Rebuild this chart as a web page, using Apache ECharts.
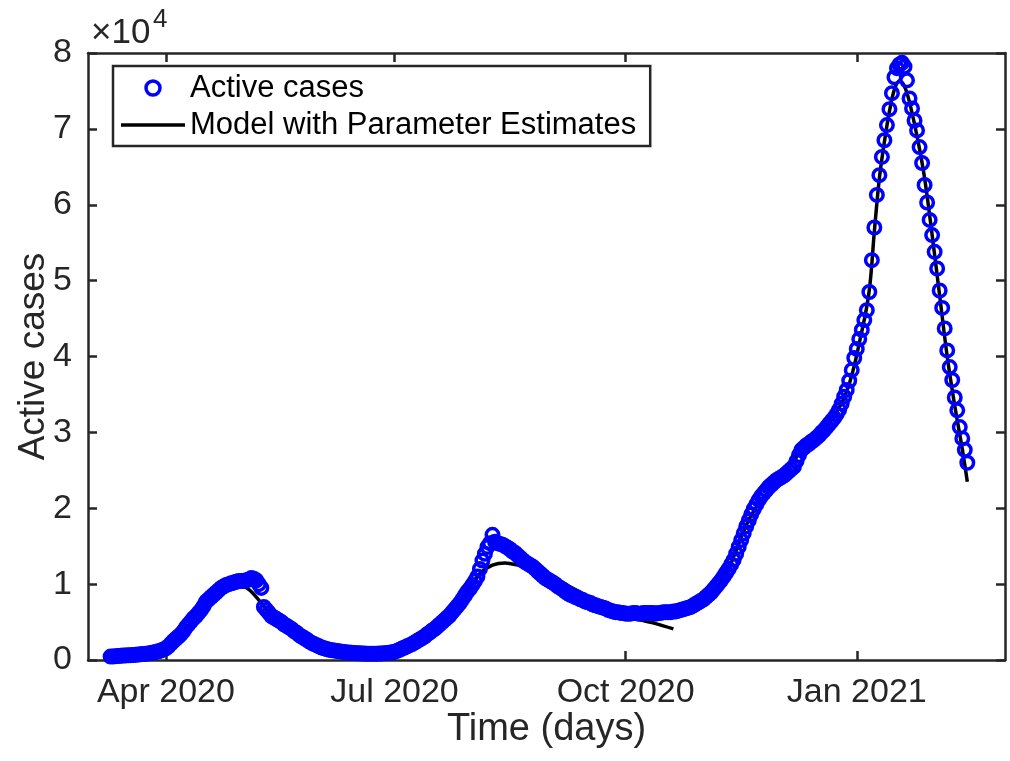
<!DOCTYPE html>
<html>
<head>
<meta charset="utf-8">
<script src="https://cdn.jsdelivr.net/npm/echarts@6/dist/echarts.min.js"></script>
<style>
  html, body { margin: 0; padding: 0; background: #ffffff; }
  #chart { width: 1010px; height: 761px; }
</style>
</head>
<body>
<div id="chart"></div>
<script>
// Daily active cases, one array per month (first day: 10 Mar 2020)
const firstDay = '2020-03-10';
const activeMar2020 = [450, 470, 500, 530, 560, 580, 600, 620, 640, 660, 690, 720, 760, 790, 830, 870, 920, 990, 1070, 1150, 1250, 1380];
const activeApr2020 = [1550, 1800, 2150, 2500, 2800, 3100, 3400, 3800, 4300, 4700, 5100, 5500, 5800, 6200, 6600, 7100, 7700, 8000, 8300, 8600, 8900, 9200, 9500, 9700, 9900, 10000, 10100, 10200, 10300, 10400];
const activeMay2020 = [10400, 10400, 10500, 10600, 10800, 10700, 10500, 10000, 9500, 7000, 6600, 6200, 5800, 5600, 5400, 5200, 5000, 4700, 4500, 4300, 4100, 3800, 3600, 3300, 3100, 2900, 2700, 2450, 2250, 2100, 1950];
const activeJun2020 = [1800, 1650, 1550, 1450, 1350, 1300, 1250, 1200, 1150, 1100, 1050, 1000, 980, 950, 930, 900, 880, 860, 850, 840, 830, 830, 830, 840, 850, 870, 900, 930, 970, 1020];
const activeJul2020 = [1100, 1200, 1350, 1500, 1650, 1800, 1950, 2100, 2300, 2500, 2700, 2900, 3100, 3400, 3600, 3900, 4100, 4400, 4700, 5000, 5300, 5600, 5900, 6300, 6700, 7100, 7500, 8000, 8500, 9000, 9400];
const activeAug2020 = [9900, 10400, 11000, 12000, 13100, 14000, 14900, 15400, 16500, 15600, 15400, 15300, 15200, 15000, 14800, 14600, 14300, 14100, 13800, 13500, 13200, 12900, 12700, 12500, 12300, 12000, 11700, 11400, 11100, 10800, 10600];
const activeSep2020 = [10400, 10200, 10000, 9700, 9500, 9300, 9000, 8800, 8600, 8500, 8300, 8200, 8000, 7900, 7700, 7600, 7500, 7300, 7200, 7100, 7000, 6900, 6800, 6600, 6500, 6400, 6300, 6300, 6200, 6200];
const activeOct2020 = [6100, 6100, 6100, 6200, 6200, 6100, 6100, 6200, 6200, 6200, 6200, 6200, 6100, 6200, 6200, 6300, 6300, 6300, 6300, 6400, 6400, 6500, 6600, 6700, 6800, 6900, 7000, 7200, 7400, 7600, 7800];
const activeNov2020 = [8000, 8300, 8600, 8900, 9300, 9700, 10100, 10500, 11000, 11500, 12000, 12600, 13200, 14000, 14900, 15800, 16700, 17600, 18400, 19200, 19900, 20500, 21100, 21600, 22000, 22400, 22800, 23100, 23400, 23700];
const activeDec2020 = [23900, 24100, 24300, 24600, 24900, 25200, 25500, 26200, 27000, 27700, 28000, 28300, 28500, 28800, 29000, 29300, 29600, 30000, 30300, 30700, 31100, 31500, 31900, 32400, 33000, 33800, 34700, 35600, 36800, 38200, 39800];
const activeJan2021 = [41000, 42300, 43500, 44800, 46100, 48500, 52700, 57000, 61300, 63900, 66300, 68500, 70500, 72600, 74700, 76800, 78000, 78500, 78700, 78200, 76400, 74000, 72700, 71100, 69800, 67600, 65500, 62600, 60300, 58000, 56000];
const activeFeb2021 = [53800, 51600, 48700, 46400, 43700, 40800, 38600, 36900, 34600, 32900, 30700, 29200, 27700, 26000];

// Fitted model, first part (spring and summer waves)
const modelDatesA = ['2020-03-10', '2020-03-20', '2020-03-31', '2020-04-05', '2020-04-10', '2020-04-15', '2020-04-20', '2020-04-25', '2020-04-30', '2020-05-04', '2020-05-08', '2020-05-12', '2020-05-17', '2020-05-22', '2020-05-27', '2020-06-01', '2020-06-10', '2020-06-20', '2020-06-30', '2020-07-10', '2020-07-20', '2020-07-25', '2020-07-30', '2020-08-04', '2020-08-09', '2020-08-14', '2020-08-19', '2020-08-24', '2020-08-29', '2020-09-03', '2020-09-08', '2020-09-13', '2020-09-18', '2020-09-23', '2020-09-28', '2020-10-03', '2020-10-08', '2020-10-13', '2020-10-20'];
const modelValuesA = [400, 620, 1300, 2600, 4600, 6700, 8500, 9600, 10000, 9300, 7900, 6300, 4900, 3700, 2600, 1800, 1100, 820, 1000, 2300, 4800, 6600, 9000, 11400, 12500, 12800, 12500, 12000, 11300, 10600, 9800, 8900, 8000, 7100, 6300, 5700, 5200, 4800, 4100];
// Fitted model, second part (winter wave)
const modelDatesB = ['2020-10-21', '2020-10-31', '2020-11-10', '2020-11-20', '2020-12-01', '2020-12-10', '2020-12-20', '2020-12-28', '2021-01-03', '2021-01-06', '2021-01-08', '2021-01-10', '2021-01-12', '2021-01-14', '2021-01-16', '2021-01-18', '2021-01-20', '2021-01-22', '2021-01-25', '2021-01-28', '2021-01-31', '2021-02-03', '2021-02-06', '2021-02-09', '2021-02-12', '2021-02-14'];
const modelValuesB = [6300, 7600, 11500, 19100, 23800, 27500, 30700, 35400, 43300, 48800, 56500, 63500, 68300, 72300, 75200, 76300, 75600, 73500, 69000, 63500, 56000, 48000, 40000, 33500, 27800, 23500];

// Axis range and tick labels
const axisStart = '2020-03-01';
const axisEnd = '2021-03-01';
const tickDates = ['2020-04-01', '2020-07-01', '2020-10-01', '2021-01-01'];
const tickLabels = ['Apr 2020', 'Jul 2020', 'Oct 2020', 'Jan 2021'];
const yTicks = [0, 1, 2, 3, 4, 5, 6, 7, 8];
const yScale = 10000;

function toStamp(s) {
  const p = s.split('-').map(Number);
  return new Date(p[0], p[1] - 1, p[2]).getTime();
}

const first = firstDay.split('-').map(Number);
const activeValues = [].concat(activeMar2020, activeApr2020, activeMay2020, activeJun2020,
  activeJul2020, activeAug2020, activeSep2020, activeOct2020, activeNov2020,
  activeDec2020, activeJan2021, activeFeb2021);
const activePoints = activeValues.map((v, i) =>
  [new Date(first[0], first[1] - 1, first[2] + i).getTime(), v]);
const modelA = modelDatesA.map((d, i) => [toStamp(d), modelValuesA[i]]);
const modelB = modelDatesB.map((d, i) => [toStamp(d), modelValuesB[i]]);

const tickStamps = tickDates.map(toStamp);
const xMin = toStamp(axisStart);
const xMax = toStamp(axisEnd);
const yMax = yTicks[yTicks.length - 1] * yScale;

const INK = '#262626';
const BLUE = '#0000ff';
const FONT = "'Liberation Sans', Arial, Helvetica, sans-serif";
const AXIS_W = 2.5;

function xLabel(v) {
  const i = tickStamps.indexOf(v);
  return i >= 0 ? tickLabels[i] : '';
}

// Dates are plotted on a numeric (millisecond) axis so that ticks sit on month starts
const baseX = {
  type: 'value',
  min: xMin,
  max: xMax,
  scale: true,
  splitLine: { show: false },
  axisLine: { show: true, onZero: false, lineStyle: { color: INK, width: AXIS_W } },
  axisTick: { show: true, inside: true, length: 9, customValues: tickStamps,
              lineStyle: { color: INK, width: AXIS_W } }
};
const baseY = {
  type: 'value',
  min: 0,
  max: yMax,
  interval: yScale,
  splitLine: { show: false },
  axisLine: { show: true, onZero: false, lineStyle: { color: INK, width: AXIS_W } },
  axisTick: { show: true, inside: true, length: 9, lineStyle: { color: INK, width: AXIS_W } }
};

const modelLine = {
  type: 'line',
  name: 'Model with Parameter Estimates',
  showSymbol: false,
  symbol: 'none',
  smooth: 0.35,
  lineStyle: { color: '#000000', width: 3.5, opacity: 1 },
  itemStyle: { color: '#000000' },
  emphasis: { disabled: true },
  silent: true,
  z: 2
};

const option = {
  animation: false,
  backgroundColor: '#ffffff',
  grid: { left: 88, right: 5, top: 53, bottom: 101, containLabel: false, outerBoundsMode: 'none' },
  xAxis: [
    Object.assign({}, baseX, {
      position: 'bottom',
      axisLabel: { customValues: tickStamps, formatter: xLabel, fontSize: 34, color: INK,
                   fontFamily: FONT, margin: 16, hideOverlap: false },
      name: 'Time (days)',
      nameLocation: 'middle',
      nameGap: 51,
      nameMoveOverlap: false,
      nameTextStyle: { fontSize: 38, color: INK, fontFamily: FONT }
    }),
    Object.assign({}, baseX, { position: 'top', axisLabel: { show: false } })
  ],
  yAxis: [
    Object.assign({}, baseY, {
      position: 'left',
      axisLabel: { formatter: v => String(v / yScale), fontSize: 34, color: INK,
                   fontFamily: FONT, margin: 16 },
      name: 'Active cases',
      nameLocation: 'middle',
      nameGap: 36,
      nameMoveOverlap: false,
      nameTextStyle: { fontSize: 37, color: INK, fontFamily: FONT }
    }),
    Object.assign({}, baseY, { position: 'right', axisLabel: { show: false } })
  ],
  legend: {
    orient: 'vertical',
    left: 113,
    top: 66,
    padding: [5, 14, 4, 8],
    itemGap: 3,
    itemWidth: 64,
    itemHeight: 14,
    selectedMode: false,
    backgroundColor: '#ffffff',
    borderColor: INK,
    borderWidth: 2.5,
    borderRadius: 0,
    textStyle: { fontSize: 31, color: '#000000', fontFamily: FONT, lineHeight: 34 },
    data: [
      { name: 'Active cases', icon: 'circle',
        itemStyle: { color: 'rgba(0,0,0,0)', borderColor: BLUE, borderWidth: 3.5, opacity: 1 } },
      { name: 'Model with Parameter Estimates', icon: 'path://M0 0H64V3.5H0Z',
        itemStyle: { color: '#000000', borderWidth: 0 } }
    ]
  },
  graphic: [
    { type: 'text', left: 91, top: 16,
      style: { text: '×10', fontSize: 35, fontFamily: FONT, fill: INK } },
    { type: 'text', left: 153, top: 7,
      style: { text: '4', fontSize: 26, fontFamily: FONT, fill: INK } }
  ],
  series: [
    {
      type: 'scatter',
      name: 'Active cases',
      data: activePoints,
      xAxisIndex: 0,
      yAxisIndex: 0,
      symbol: 'circle',
      symbolSize: 12.5,
      itemStyle: { color: 'rgba(0,0,0,0)', borderColor: BLUE, borderWidth: 3.5, opacity: 1 },
      emphasis: { disabled: true },
      silent: true,
      z: 3
    },
    Object.assign({}, modelLine, { data: modelA }),
    Object.assign({}, modelLine, { data: modelB })
  ]
};

const chart = echarts.init(document.getElementById('chart'), null, { renderer: 'canvas' });
chart.setOption(option);
</script>
</body>
</html>
